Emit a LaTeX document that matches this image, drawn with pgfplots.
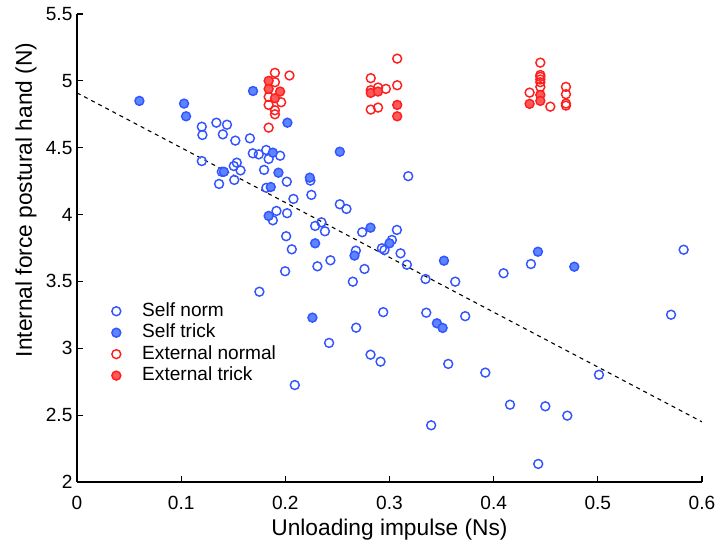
\documentclass[border=0pt]{standalone}
\usepackage{fontspec}
\setmainfont{Liberation Sans}
\usepackage{pgfplots}
\usepackage{pgfplotstable}
\pgfplotsset{compat=1.18}

\definecolor{sblue}{RGB}{51,85,255}
\definecolor{sbluefill}{RGB}{92,133,255}
\definecolor{ered}{RGB}{255,30,30}
\definecolor{eredfill}{RGB}{255,90,90}

% unloading impulse (Ns), internal force (N)
\pgfplotstableread{
x y
0.1198 4.657
0.1204 4.595
0.1338 4.687
0.144 4.672
0.140 4.60
0.152 4.553
0.166 4.57
0.1688 4.458
0.1745 4.45
0.1816 4.483
0.184 4.416
0.195 4.44
0.1198 4.40
0.1534 4.388
0.1505 4.363
0.139 4.32
0.157 4.33
0.1364 4.229
0.151 4.259
0.1796 4.334
0.2014 4.246
0.2241 4.254
0.1818 4.20
0.2078 4.117
0.225 4.147
0.1915 4.027
0.2017 4.01
0.188 3.957
0.2347 3.942
0.2286 3.915
0.238 3.875
0.2008 3.838
0.2062 3.74
0.2433 3.658
0.2308 3.613
0.1998 3.576
0.1751 3.423
0.242 3.04
0.2523 4.077
0.2587 4.042
0.2738 3.868
0.3071 3.885
0.3023 3.81
0.2927 3.748
0.2952 3.735
0.2677 3.73
0.3106 3.71
0.3167 3.625
0.276 3.593
0.2648 3.498
0.3346 3.518
0.3631 3.498
0.294 3.27
0.268 3.154
0.3353 3.266
0.3727 3.24
0.2818 2.952
0.2914 2.90
0.3564 2.883
0.392 2.818
0.4095 3.561
0.4358 3.63
0.5824 3.737
0.5703 3.251
0.5011 2.802
0.4157 2.578
0.4496 2.566
0.4707 2.496
0.340 2.424
0.4428 2.135
0.2091 2.725
0.318 4.287
}\selfnorm

\pgfplotstableread{
x y
0.0599 4.85
0.1028 4.83
0.1047 4.735
0.169 4.924
0.202 4.687
0.188 4.463
0.141 4.32
0.1934 4.313
0.2235 4.276
0.186 4.206
0.184 3.99
0.2286 3.785
0.226 3.229
0.2523 4.47
0.2818 3.902
0.300 3.785
0.2664 3.693
0.3523 3.655
0.3455 3.187
0.351 3.152
0.4425 3.722
0.4774 3.61
}\selftrick

\pgfplotstableread{
x y
0.190 5.06
0.204 5.04
0.190 4.99
0.184 4.88
0.196 4.84
0.184 4.82
0.190 4.78
0.190 4.75
0.184 4.65
0.3074 5.166
0.282 5.02
0.3074 4.967
0.282 4.93
0.289 4.95
0.2965 4.94
0.282 4.785
0.289 4.80
0.4448 5.136
0.4448 5.044
0.4448 5.03
0.4448 5.01
0.4448 4.99
0.4448 4.955
0.4345 4.912
0.4544 4.807
0.4694 4.955
0.4694 4.90
0.4694 4.83
0.4694 4.815
}\extnormal

\pgfplotstableread{
x y
0.184 5.00
0.184 4.94
0.195 4.92
0.190 4.87
0.282 4.91
0.289 4.92
0.3074 4.82
0.3074 4.735
0.4448 4.895
0.4448 4.85
0.4345 4.828
}\exttrick

\begin{document}
\begin{tikzpicture}
\begin{axis}[
    at={(0,0)}, anchor=south west,
    scale only axis,
    width=343.75pt, height=257.4pt,
    xmin=0, xmax=0.6, ymin=2, ymax=5.5,
    axis x line*=bottom, axis y line*=left,
    axis line style={line width=0.6pt, black},
    tick align=inside,
    major tick length=3.3pt,
    tick style={line width=0.6pt, black},
    xtick={0,0.1,0.2,0.3,0.4,0.5,0.6},
    ytick={2,2.5,3,3.5,4,4.5,5,5.5},
    /pgf/number format/assume math mode=true,
    ticklabel style={font=\fontsize{10.5}{12}\selectfont},
    xticklabel style={yshift=-4pt},
    yticklabel style={xshift=1pt},
    xlabel={Unloading impulse (Ns)},
    ylabel={Internal force postural hand (N)},
    every axis x label/.style={at={(axis description cs:0.5,0)}, yshift=-26.4pt, anchor=center, font=\fontsize{12.5}{15}\selectfont},
    every axis y label/.style={at={(axis description cs:0,0.6026)}, xshift=-28pt, rotate=90, anchor=center, font=\fontsize{12.5}{15}\selectfont},
    legend image code/.code={\draw[#1] plot coordinates {(0pt,0pt)};},
    legend cell align=left,
    legend style={
        at={(axis description cs:0.0552,0.386)}, anchor=north west,
        draw=none, fill=none, inner sep=0pt,
        font=\fontsize{10.5}{12}\selectfont,
        nodes={inner sep=0pt, text height=8pt, text depth=2.5pt},
        row sep=1.3pt, column sep=11.8pt,
    },
]
\addplot[only marks, mark=o, mark size=2.45pt, mark options={draw=sblue, line width=0.8pt}] table {\selfnorm};
\addlegendentry{Self norm}
\addplot[only marks, mark=*, mark size=2.45pt, mark options={draw=sblue, fill=sbluefill, line width=0.8pt}] table {\selftrick};
\addlegendentry{Self trick}
\addplot[only marks, mark=o, mark size=2.45pt, mark options={draw=ered, line width=0.8pt}] table {\extnormal};
\addlegendentry{External normal}
\addplot[only marks, mark=*, mark size=2.45pt, mark options={draw=ered, fill=eredfill, line width=0.8pt}] table {\exttrick};
\addlegendentry{External trick}
\addplot[forget plot, black, line width=0.6pt, dash pattern=on 2.2pt off 2.2pt] coordinates {(0,4.91) (0.6,2.45)};
\end{axis}
\pgfresetboundingbox
\path[use as bounding box] (-42.35pt,-33.55pt) rectangle (352pt,265.1pt);
\end{tikzpicture}
\end{document}
